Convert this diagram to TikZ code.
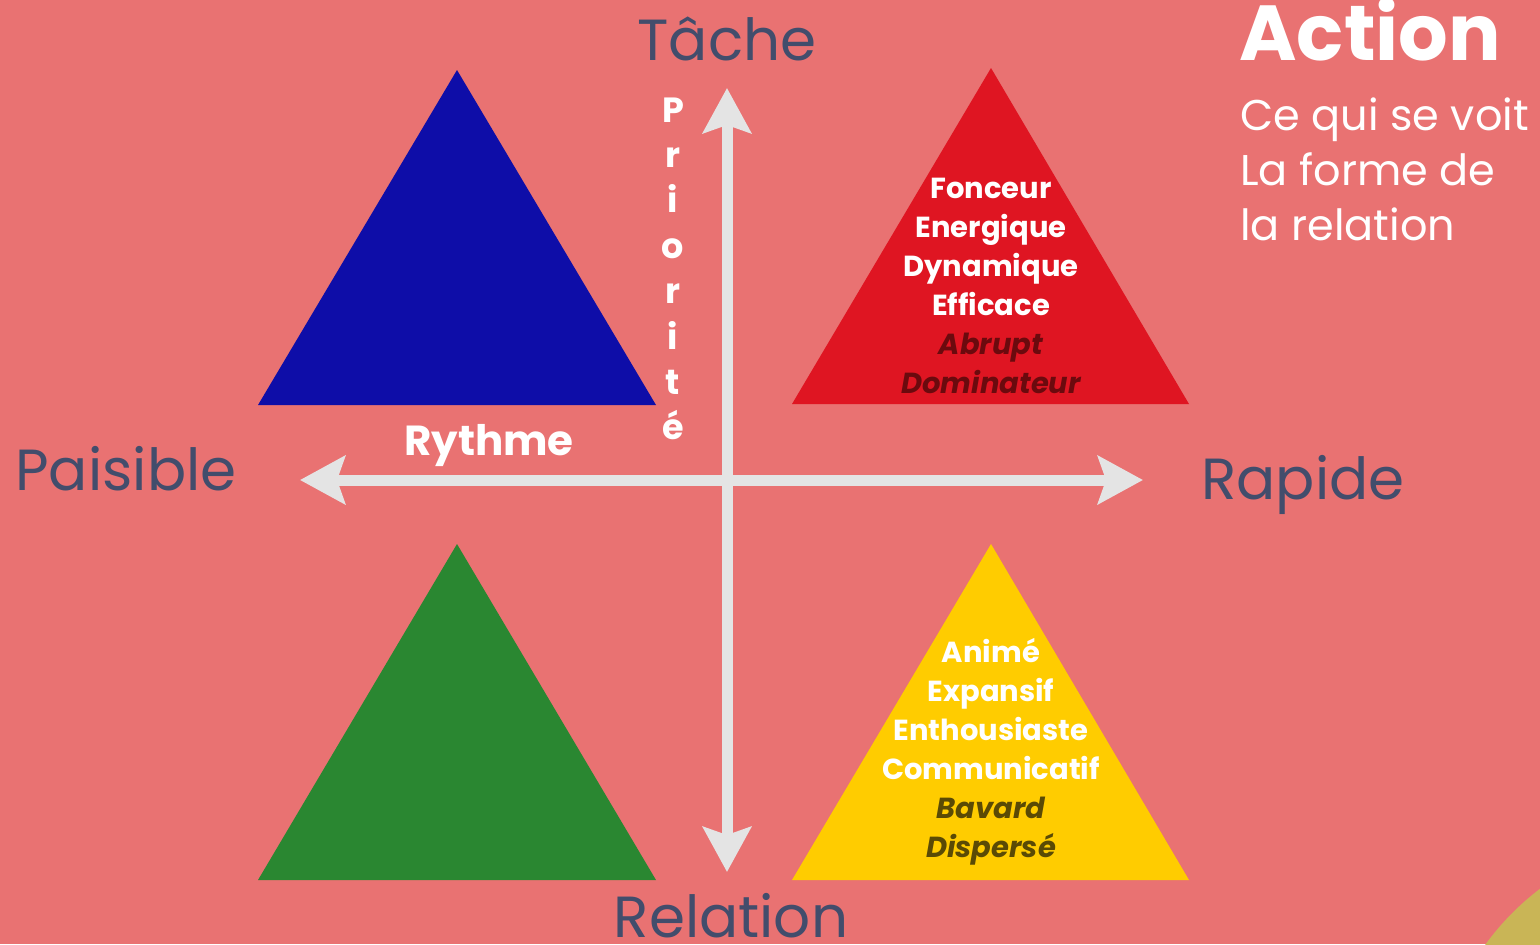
\documentclass[tikz,border=0pt]{standalone}
\usepackage{fontspec}
\setmainfont{Poppins}
\usetikzlibrary{arrows.meta}
\definecolor{bgpink}{HTML}{E97272}
\definecolor{cornergold}{HTML}{C9B556}
\definecolor{axisgrey}{HTML}{E4E4E4}
\definecolor{slate}{HTML}{424D6C}
\definecolor{triblue}{HTML}{0E0DA8}
\definecolor{trired}{HTML}{DF1522}
\definecolor{trigreen}{HTML}{2A8731}
\definecolor{triyellow}{HTML}{FFCC00}
\definecolor{darkred}{HTML}{6B0A0E}
\definecolor{darkolive}{HTML}{5A4A05}
\tikzset{
  axis/.style={draw=axisgrey, line width=5.5pt,
    {Stealth[length=22.5pt,width=24pt,inset=4pt]}-{Stealth[length=22.5pt,width=24pt,inset=4pt]}},
  pole/.style={anchor=base, inner sep=0pt, text=slate, font=\fontsize{29pt}{34pt}\selectfont},
  trait/.style={anchor=base, inner sep=0pt, text=white, font=\bfseries\fontsize{14.5pt}{19pt}\selectfont},
  flaw/.style={anchor=base, inner sep=0pt, font=\bfseries\itshape\fontsize{14.5pt}{19pt}\selectfont},
  letter/.style={anchor=base, inner sep=0pt, text=white, font=\bfseries\fontsize{17.5pt}{20pt}\selectfont},
  subline/.style={anchor=base west, inner sep=0pt, text=white, font=\fontsize{21.5pt}{26pt}\selectfont},
}
\begin{document}
\begin{tikzpicture}[x=0.5pt,y=-0.5pt]
\useasboundingbox (0,0) rectangle (1540,944);
\clip (0,0) rectangle (1540,944);
\fill[bgpink] (0,0) rectangle (1540,944);
\fill[cornergold] (1700,1100) circle (132.5pt);

% four triangles
\fill[triblue]   (457,70)  -- (656,405) -- (258,405) -- cycle;
\fill[trired]    (991,68)  -- (1189,404) -- (792,404) -- cycle;
\fill[trigreen]  (457,544) -- (656,880) -- (258,880) -- cycle;
\fill[triyellow] (991,544) -- (1189,880) -- (792,880) -- cycle;

% axes
\coordinate (up) at (727,88);
\coordinate (down) at (727,872);
\coordinate (left) at (300,480);
\coordinate (right) at (1143,480);
\draw[axis] (left) -- (right);
\draw[axis] (down) -- (up);

% pole labels
\node[pole, anchor=base] (tache) at (727,60) {Tâche};
\node[pole, anchor=base] (relation) at (731,937) {Relation};
\node[pole, anchor=base west] (paisible) at (15,490) {Paisible};
\node[pole, anchor=base west] (rapide) at (1201,499) {Rapide};

% axis names
\node[anchor=base, inner sep=0pt, text=white, font=\bfseries\fontsize{21pt}{24pt}\selectfont] (rythme) at (489,455) {Rythme};
\foreach \ch [count=\i] in {P,r,i,o,r,i,t,é}
  \node[letter] (prio-\i) at (673,{122+45.4*(\i-1)}) {\ch};

% red profile
\foreach \w [count=\i] in {Fonceur,Energique,Dynamique,Efficace}
  \node[trait] (red-\i) at (991,{198+39*(\i-1)}) {\w};
\node[flaw, text=darkred] (red-5) at (991,354) {Abrupt};
\node[flaw, text=darkred] (red-6) at (991,393) {Dominateur};

% yellow profile
\foreach \w [count=\i] in {Animé,Expansif,Enthousiaste,Communicatif}
  \node[trait] (yel-\i) at (991,{662+39*(\i-1)}) {\w};
\node[flaw, text=darkolive] (yel-5) at (991,818) {Bavard};
\node[flaw, text=darkolive] (yel-6) at (991,857) {Dispersé};

% heading
\node[anchor=base west, inner sep=0pt, text=white, font=\bfseries\fontsize{39pt}{46pt}\selectfont] (action) at (1239,60) {Action};
\node[subline] (sub-1) at (1240,130) {Ce qui se voit};
\node[subline] (sub-2) at (1240,185) {La forme de};
\node[subline] (sub-3) at (1240,240) {la relation};
\end{tikzpicture}
\end{document}
